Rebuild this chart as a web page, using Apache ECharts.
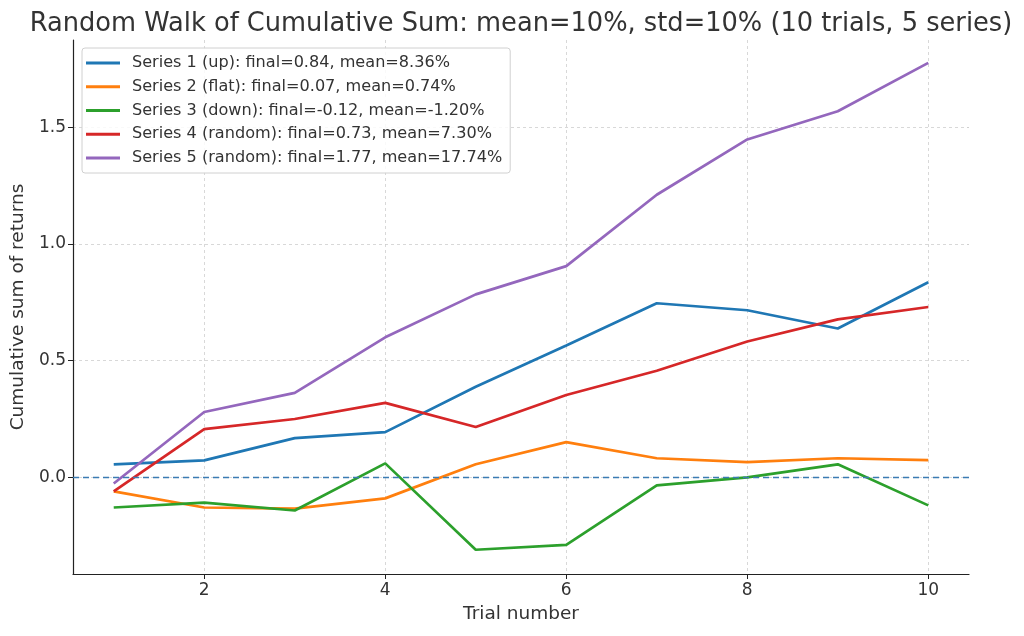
<!DOCTYPE html>
<html><head><meta charset="utf-8">
<script src="https://cdn.jsdelivr.net/npm/echarts@6/dist/echarts.min.js"></script>
<style>html,body{margin:0;padding:0;background:#fff}#c{width:1024px;height:636px}</style>
</head><body><div id="c"></div>
<script>
const trials = [1,2,3,4,5,6,7,8,9,10];
const seriesNames = [
  "Series 1 (up): final=0.84, mean=8.36%",
  "Series 2 (flat): final=0.07, mean=0.74%",
  "Series 3 (down): final=-0.12, mean=-1.20%",
  "Series 4 (random): final=0.73, mean=7.30%",
  "Series 5 (random): final=1.77, mean=17.74%"
];
const s1 = [0.056,0.073,0.168,0.194,0.388,0.565,0.746,0.716,0.638,0.836];
const s2 = [-0.060,-0.129,-0.134,-0.090,0.056,0.151,0.082,0.065,0.082,0.074];
const s3 = [-0.129,-0.108,-0.142,0.060,-0.310,-0.289,-0.034,0.000,0.056,-0.120];
const s4 = [-0.060,0.207,0.250,0.319,0.216,0.353,0.457,0.582,0.677,0.730];
const s5 = [-0.026,0.280,0.362,0.600,0.784,0.905,1.211,1.448,1.569,1.776];
const xTicks = [2,4,6,8,10];
const yTicks = [0,0.5,1.0,1.5];
const colors = ['#1f77b4','#ff7f0e','#2ca02c','#d62728','#9467bd'];
const allData = [s1,s2,s3,s4,s5];

const chart = echarts.init(document.getElementById('c'), null, {renderer:'canvas'});
const font = 'DejaVu Sans';
const series = allData.map((d,i)=>({
  name: seriesNames[i], type:'line', data: d.map((v,j)=>[trials[j],v]),
  symbol:'none', lineStyle:{width:2.7,color:colors[i]}, itemStyle:{color:colors[i]},
  z: 3,
  markLine: i===0 ? {silent:true, symbol:'none', label:{show:false},
    lineStyle:{type:[6,4],width:1.3,color:'#3b7bb3'}, data:[{yAxis:0}]} : undefined
}));
chart.setOption({
  animation:false,
  color: colors,
  title:{text:'Random Walk of Cumulative Sum: mean=10%, std=10% (10 trials, 5 series)',
    left:516, textAlign:'center', top:6, textStyle:{fontFamily:font, fontSize:25.7, fontWeight:'normal', color:'#333'}},
  grid:{left:73,right:55,top:40,bottom:62,containLabel:false},
  legend:{orient:'vertical', left:82, top:48, icon:'rect', itemWidth:34, itemHeight:3,
    itemGap:7.75, padding:[7,8,7,4], borderColor:'#d0d0d0', borderWidth:1, borderRadius:3,
    backgroundColor:'rgba(255,255,255,0.85)',
    textStyle:{fontFamily:font, fontSize:16.1, color:'#333', lineHeight:16, padding:[0,0,0,7]}},
  xAxis:{type:'value', min:0.55, max:10.45, name:'Trial number', nameLocation:'middle', nameGap:31,
    nameTextStyle:{fontFamily:font, fontSize:18.5, color:'#333'},
    axisLine:{show:true, onZero:false, lineStyle:{color:'#222',width:1.2}},
    axisTick:{show:true, customValues:xTicks, length:5, inside:false, lineStyle:{color:'#222'}},
    axisLabel:{customValues:xTicks, fontFamily:font, fontSize:17, color:'#333', margin:8},
    splitLine:{show:true, lineStyle:{type:[3,3], color:'#cfcfcf', width:0.8}}},
  yAxis:{type:'value', min:-0.414, max:1.874, name:'Cumulative sum of returns', nameLocation:'middle', nameGap:45,
    nameTextStyle:{fontFamily:font, fontSize:18.5, color:'#333'},
    axisLine:{show:true, onZero:false, lineStyle:{color:'#222',width:1.2}},
    axisTick:{show:true, customValues:yTicks, length:5, lineStyle:{color:'#222'}},
    axisLabel:{customValues:yTicks, fontFamily:font, fontSize:17, color:'#333', margin:7,
      formatter:v=>v.toFixed(1)},
    splitLine:{show:true, lineStyle:{type:[3,3], color:'#cfcfcf', width:0.8}}},
  series: series
});
</script></body></html>
